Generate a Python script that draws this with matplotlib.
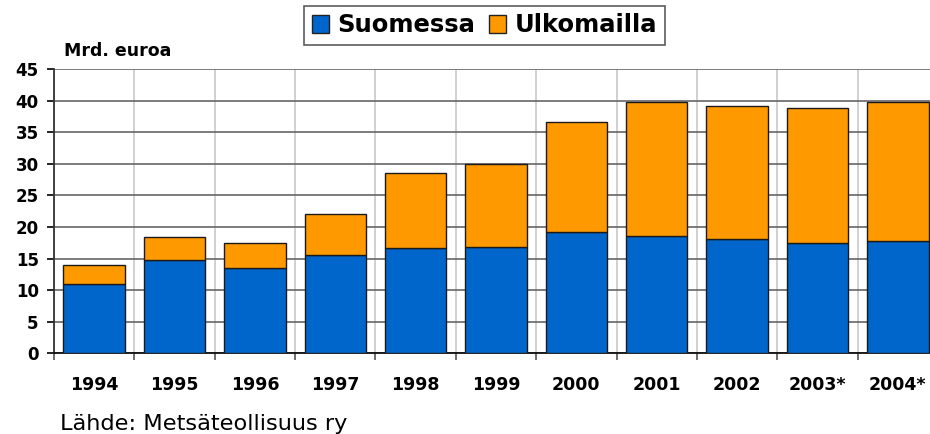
import numpy as np
import matplotlib
matplotlib.use("Agg")
import matplotlib.pyplot as plt
from matplotlib.patches import Patch

plt.rcParams['font.family'] = ['DejaVu Sans']

years = ["1994", "1995", "1996", "1997", "1998", "1999",
         "2000", "2001", "2002", "2003*", "2004*"]
suomessa = [11.0, 14.7, 13.5, 15.6, 16.6, 16.9, 19.2, 18.5, 18.1, 17.4, 17.8]
totals = [13.9, 18.4, 17.4, 22.0, 28.5, 29.9, 36.6, 39.7, 39.2, 38.9, 39.7]
ulkomailla = [t - s for t, s in zip(totals, suomessa)]

BLUE = "#0066CC"
ORANGE = "#FF9900"

fig = plt.figure(figsize=(9.3, 4.34), dpi=100)
# plot area runs slightly past the right edge, as in the original
ax = fig.add_axes([54 / 930, 80.7 / 434, 884 / 930, 284.3 / 434])

x = np.arange(len(years))
ax.bar(x, suomessa, width=0.765, color=BLUE, edgecolor="#1a1a1a", linewidth=1.0, zorder=3)
ax.bar(x, ulkomailla, bottom=suomessa, width=0.765, color=ORANGE,
       edgecolor="#1a1a1a", linewidth=1.0, zorder=3)

ax.set_xlim(-0.5, len(years) - 0.5)
ax.set_ylim(0, 45)
ax.set_yticks(np.arange(0, 46, 5))
ax.set_yticklabels([str(v) for v in range(0, 46, 5)], fontsize=12, fontweight="bold")

# category labels at centres, tick marks / grid at boundaries
ax.set_xticks(x)
ax.set_xticklabels(years, fontsize=12.5, fontweight="bold")
ax.tick_params(axis="x", which="major", length=0, pad=16)
ax.set_xticks(np.arange(-0.5, len(years) + 0.5, 1), minor=True)
ax.tick_params(axis="x", which="minor", length=5, width=1.2, color="#555555", direction="out")
ax.tick_params(axis="y", length=5, width=1.2, direction="out", pad=6)

ax.grid(axis="y", color="#666666", linewidth=1.2, zorder=0)
ax.grid(axis="x", which="minor", color="#c8c8c8", linewidth=1.2, zorder=0)
ax.grid(axis="x", which="major", visible=False)
ax.set_axisbelow(True)

for side in ["top", "right"]:
    ax.spines[side].set_visible(False)
ax.spines["left"].set_color("#333333")
ax.spines["left"].set_linewidth(1.3)
ax.spines["bottom"].set_color("#111111")
ax.spines["bottom"].set_linewidth(1.3)

fig.text(64 / 930, 1 - 51.5 / 434, "Mrd. euroa", fontsize=12.5, fontweight="bold",
         ha="left", va="center")
fig.text(60 / 930, 1 - 430 / 434, "Lähde: Metsäteollisuus ry", fontsize=16.2,
         ha="left", va="baseline")

handles = [Patch(facecolor=BLUE, edgecolor="#222222", label="Suomessa"),
           Patch(facecolor=ORANGE, edgecolor="#222222", label="Ulkomailla")]
leg = fig.legend(handles=handles, loc="center", bbox_to_anchor=(484.5 / 930, 1 - 25.5 / 434),
                 ncol=2, frameon=True, fancybox=False, edgecolor="#333333",
                 prop={"size": 17.5, "weight": "bold"}, handlelength=0.7, handleheight=0.7,
                 handletextpad=0.35, columnspacing=0.6, borderpad=0.3, borderaxespad=0)
leg.get_frame().set_linewidth(1.2)

fig.savefig("out.png", dpi=100)
